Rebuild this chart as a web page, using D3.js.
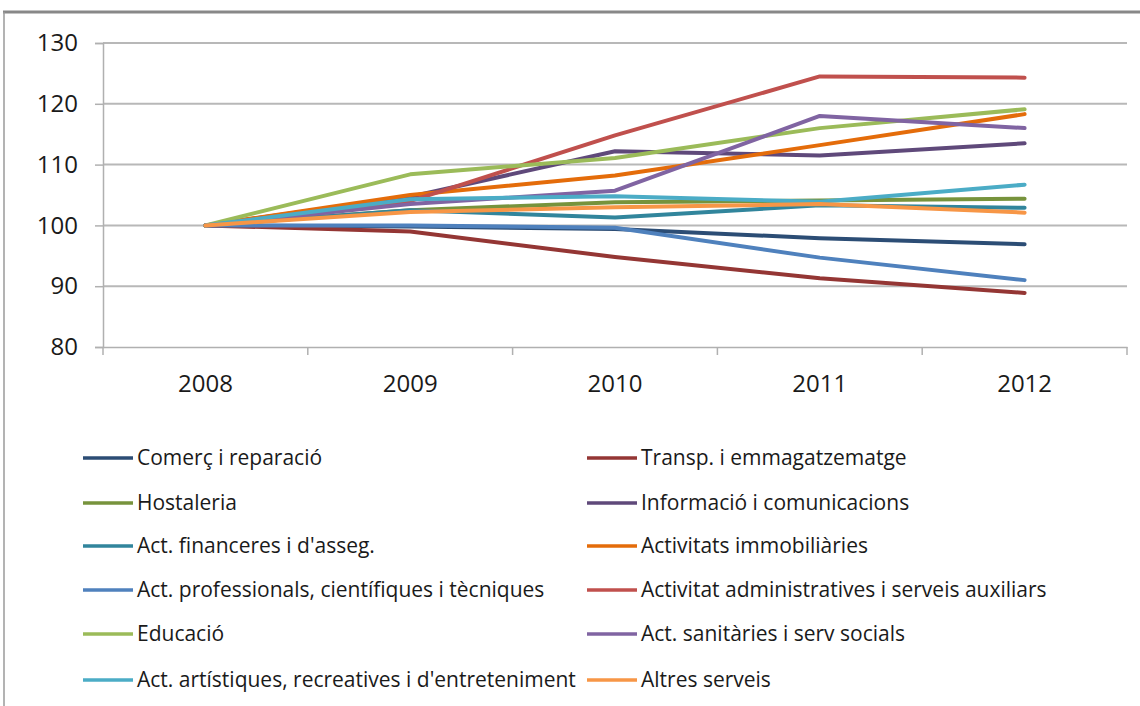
<!DOCTYPE html>
<html><head><meta charset="utf-8">
<script src="https://cdn.jsdelivr.net/npm/d3@7"></script>
<style>
html,body{margin:0;padding:0;background:#fff;}
svg{display:block;}
text{font-family:"Open Sans",sans-serif;fill:#1a1a1a;}
</style></head><body>
<svg id="c" width="1140" height="706"></svg>
<script>
const years = ["2008","2009","2010","2011","2012"];
const yTicks = [80,90,100,110,120,130];
const seriesNames = [
  "Comerç i reparació","Transp. i emmagatzematge","Hostaleria","Informació i comunicacions",
  "Act. financeres i d'asseg.","Activitats immobiliàries","Act. professionals, científiques i tècniques",
  "Activitat administratives i serveis auxiliars","Educació","Act. sanitàries i serv socials",
  "Act. artístiques, recreatives i d'entreteniment","Altres serveis"
];
const seriesColors = ["#2c4d75","#943634","#77933c","#5f497a","#31859c","#e46c0a",
  "#4f81bd","#c0504d","#9bbb59","#8064a2","#4bacc6","#f79646"];
const comerc   = [100, 99.8, 99.4, 97.9, 96.9];
const transp   = [100, 99.0, 94.8, 91.3, 88.9];
const hostal   = [100, 102.5, 103.8, 104.1, 104.4];
const inform   = [100, 104.7, 112.2, 111.5, 113.5];
const financ   = [100, 102.5, 101.3, 103.3, 102.9];
const immob    = [100, 105.0, 108.2, 113.2, 118.3];
const profes   = [100, 100.0, 99.6, 94.7, 91.0];
const admin    = [100, 104.0, 114.8, 124.5, 124.3];
const educ     = [100, 108.4, 111.1, 116.0, 119.1];
const sanit    = [100, 103.5, 105.7, 118.0, 116.0];
const artist   = [100, 104.3, 104.8, 103.9, 106.7];
const altres   = [100, 102.2, 103.0, 103.5, 102.1];
const seriesValues = [comerc,transp,hostal,inform,financ,immob,profes,admin,educ,sanit,artist,altres];

const svg = d3.select("#c");
// outer frame
svg.append("line").attr("x1",3).attr("x2",1140).attr("y1",12).attr("y2",12).attr("stroke","#888").attr("stroke-width",3);
svg.append("line").attr("x1",4).attr("x2",4).attr("y1",12).attr("y2",706).attr("stroke","#9a9a9a").attr("stroke-width",1.5);

const L=103, R=1127, T=43, B=347;
const x = d3.scaleBand().domain(years).range([L,R]).padding(0);
const y = d3.scaleLinear().domain([80,130]).range([B,T]);

// gridlines
svg.append("g").selectAll("line").data(yTicks.filter(d=>d>80)).join("line")
  .attr("x1",L).attr("x2",R).attr("y1",d=>y(d)).attr("y2",d=>y(d))
  .attr("stroke","#b8b8b8").attr("stroke-width",2);

// y axis
const ya = svg.append("g").attr("transform",`translate(${L},0)`).call(d3.axisLeft(y).tickValues(yTicks).tickSize(8).tickPadding(17));
ya.select(".domain").attr("stroke","#b0b0b0").attr("stroke-width",1.5);
ya.selectAll(".tick line").attr("stroke","#b0b0b0").attr("stroke-width",1.5);
ya.selectAll("text").attr("font-size",24).style("font-family",'"Open Sans",sans-serif').attr("fill","#1a1a1a");

// x axis
const xa = svg.append("g").attr("transform",`translate(0,${B})`).call(d3.axisBottom(x).tickSize(0).tickPadding(28));
xa.select(".domain").attr("stroke","#b0b0b0").attr("stroke-width",1.5);
xa.selectAll("text").attr("font-size",24).style("font-family",'"Open Sans",sans-serif').attr("fill","#1a1a1a");
svg.append("g").selectAll("line").data(years.map(d=>x(d)).concat([R])).join("line")
  .attr("x1",d=>d).attr("x2",d=>d).attr("y1",B).attr("y2",B+8).attr("stroke","#b0b0b0").attr("stroke-width",1.5);

// lines
const line = d3.line().x((d,i)=>x(years[i])+x.bandwidth()/2).y(d=>y(d));
svg.append("g").selectAll("path").data(seriesValues).join("path")
  .attr("d",d=>line(d)).attr("fill","none")
  .attr("stroke",(d,i)=>seriesColors[i]).attr("stroke-width",4)
  .attr("stroke-linejoin","round").attr("stroke-linecap","round");

// legend
const rowsY = [458,503,546,590,634,680];
const lg = svg.append("g");
seriesNames.forEach((n,i)=>{
  const col = i%2, row = Math.floor(i/2);
  const lx = col===0 ? 83 : 587;
  const yy = rowsY[row];
  lg.append("line").attr("x1",lx).attr("x2",lx+50).attr("y1",yy).attr("y2",yy)
    .attr("stroke",seriesColors[i]).attr("stroke-width",3.5);
  lg.append("text").attr("x",lx+54).attr("y",yy).attr("dy","0.35em").attr("font-size",21).text(n);
});
</script>
</body></html>
